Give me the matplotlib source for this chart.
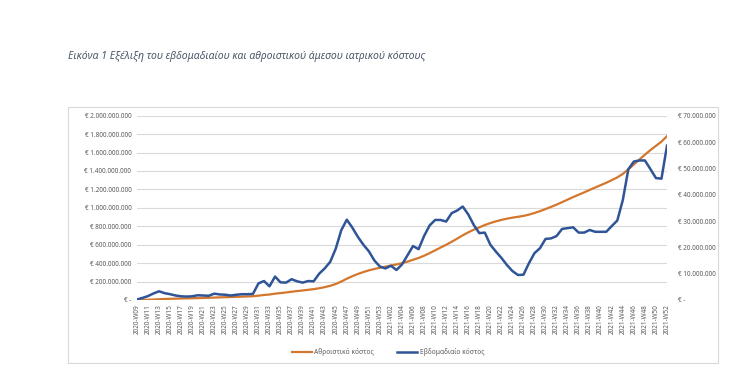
import matplotlib
matplotlib.use('Agg')
import matplotlib.pyplot as plt
from matplotlib.ticker import FuncFormatter, MultipleLocator
from matplotlib.patches import Rectangle

plt.rcParams['font.family'] = ['Noto Sans', 'DejaVu Sans']

# week labels (categories)
weeks = ['2020-W%02d' % w for w in range(9, 54)] + ['2021-W%02d' % w for w in range(1, 53)]

# weekly direct medical cost, million EUR (right axis)
weekly_cost = [
    0.2, 0.8, 1.5, 2.5, 3.3, 2.6, 2.2, 1.7, 1.4, 1.3,
    1.4, 1.8, 1.7, 1.6, 2.4, 2.1, 2.0, 1.7, 2.0, 2.2,
    2.2, 2.3, 6.3, 7.2, 5.2, 8.9, 6.7, 6.6, 7.9, 7.1,
    6.6, 7.2, 7.1, 10.0, 12.0, 14.5, 19.5, 26.5, 30.5, 27.5,
    24.0, 21.0, 18.5, 15.0, 12.7, 12.0, 13.0, 11.4, 13.5, 17.0,
    20.5, 19.3, 24.3, 28.3, 30.4, 30.4, 29.8, 33.0, 34.0, 35.5,
    32.5, 28.5, 25.4, 25.6, 21.0, 18.4, 16.0, 13.3, 11.0, 9.5,
    9.6, 14.0, 17.8, 19.7, 23.2, 23.4, 24.3, 27.0, 27.3, 27.6,
    25.6, 25.6, 26.6, 25.9, 25.9, 25.9, 28.1, 30.2, 38.0, 49.7,
    52.6, 53.0, 53.0, 49.7, 46.3, 46.1, 58.6,
]

# cumulative direct medical cost, million EUR (left axis)
cumulative_cost = [
    0.2, 1.0, 2.5, 5.0, 8.3, 10.9, 13.1, 14.8, 16.2, 17.5,
    18.9, 20.7, 22.4, 24.0, 26.4, 28.5, 30.5, 32.2, 34.2, 36.4,
    38.6, 40.9, 47.2, 54.4, 59.6, 68.5, 75.2, 81.8, 89.7, 96.8,
    103.4, 110.6, 117.7, 127.7, 139.7, 154.2, 173.7, 200.2, 230.7, 258.2,
    282.2, 303.2, 321.7, 336.7, 349.4, 361.4, 374.4, 385.8, 399.3, 416.3,
    436.8, 456.1, 480.4, 508.7, 539.1, 569.5, 599.3, 632.3, 666.3, 701.8,
    734.3, 762.8, 788.2, 813.8, 834.8, 853.2, 869.2, 882.5, 893.5, 903.0,
    912.6, 926.6, 944.4, 964.1, 987.3, 1010.7, 1035.0, 1062.0, 1089.3, 1116.9,
    1142.5, 1168.1, 1194.7, 1220.6, 1246.5, 1272.4, 1300.5, 1330.7, 1368.7, 1418.4,
    1471.0, 1524.0, 1577.0, 1626.7, 1673.0, 1719.1, 1777.7,
]

label_cum = 'Αθροιστικό κόστος'
label_week = 'Εβδομαδιαίο κόστος'
title = 'Εικόνα 1 Εξέλιξη του εβδομαδιαίου και αθροιστικού άμεσου ιατρικού κόστους'

ORANGE = '#D4762C'
BLUE = '#2F5597'
GREY = '#595959'


def euro(v, pos=None):
    if abs(v) < 1e-9:
        return '€ -'
    return '€ ' + '{:,.0f}'.format(v * 1e6).replace(',', '.')


fig = plt.figure(figsize=(7.34, 3.92), dpi=100)
fig.patch.set_facecolor('white')

# chart frame
fig.patches.append(Rectangle((68 / 734, 1 - 363 / 392), 650 / 734, 256 / 392,
                             transform=fig.transFigure, fill=False,
                             edgecolor='#D9D9D9', lw=0.8))

fig.text(68 / 734, 1 - 57 / 392, title, fontsize=7.5, style='italic',
         color='#4A5668', va='center', ha='left')

ax = fig.add_axes([137 / 734, 1 - 300 / 392, 530 / 734, 184.3 / 392])
ax2 = ax.twinx()

x = list(range(len(weeks)))
l1, = ax.plot(x, cumulative_cost, color=ORANGE, lw=1.6, label=label_cum)
l2, = ax2.plot(x, weekly_cost, color=BLUE, lw=1.8, label=label_week)

ax.set_xlim(0, len(weeks) - 1)
ax.set_ylim(0, 2000)
ax2.set_ylim(0, 70)
ax.yaxis.set_major_locator(MultipleLocator(200))
ax2.yaxis.set_major_locator(MultipleLocator(10))
ax.yaxis.set_major_formatter(FuncFormatter(euro))
ax2.yaxis.set_major_formatter(FuncFormatter(euro))

ax.set_xticks(x[::2])
ax.set_xticklabels(weeks[::2], rotation=90)

ax.grid(axis='y', color='#D9D9D9', lw=0.8)
ax.set_axisbelow(True)
for a in (ax, ax2):
    for s in a.spines.values():
        s.set_visible(False)
ax.tick_params(axis='y', length=0, pad=4, labelsize=4.6, labelcolor=GREY)
ax2.tick_params(axis='y', length=0, pad=8, labelsize=4.6, labelcolor=GREY)
ax.tick_params(axis='x', length=0, pad=3, labelsize=4.6, labelcolor=GREY)

fig.legend([l1, l2], [label_cum, label_week], loc='center',
           bbox_to_anchor=(388 / 734, 1 - 352 / 392), ncol=2, frameon=False,
           fontsize=4.8, labelcolor=GREY, handlelength=3.0, columnspacing=3.5,
           handletextpad=0.4)

fig.savefig('out.png', dpi=100)
